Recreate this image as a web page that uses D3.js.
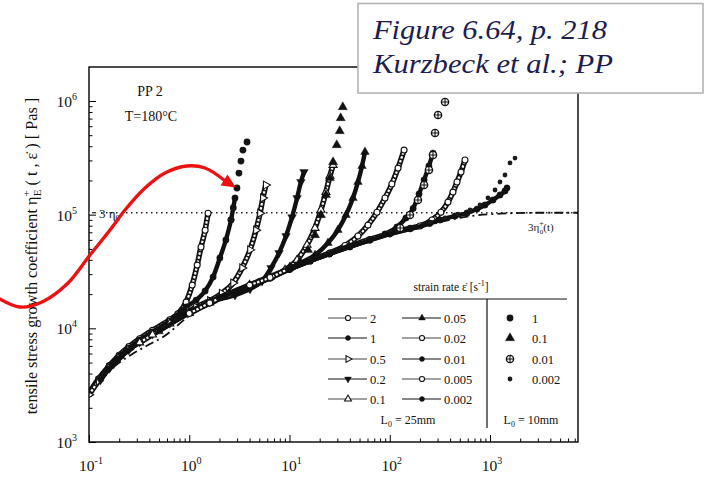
<!DOCTYPE html>
<html>
<head>
<meta charset="utf-8">
<script src="https://cdn.jsdelivr.net/npm/d3@7"></script>
<style>
  html, body { margin: 0; padding: 0; background: #fff; }
  svg { display: block; font-family: "Liberation Serif", "Times New Roman", serif; }
</style>
</head>
<body>
<svg id="chart" width="705" height="479"></svg>
<script>
// ---- PP 2 at 180 °C: tensile stress growth coefficient [t (s), eta (Pa s)] ----
// L0 = 25 mm specimens, one array per strain rate (1/s)
const r2     = [[0.1,2700],[0.125,3600],[0.16,4700],[0.2,5800],[0.25,6900],[0.32,8100],[0.43,9600],[0.64,11900],[0.77,13400],[0.93,17000],[1.07,24000],[1.2,36000],[1.31,52000],[1.44,73000],[1.54,103000]];
const r1     = [[0.1,2650],[0.125,3550],[0.16,4650],[0.2,5700],[0.25,6700],[0.32,7900],[0.43,9300],[0.64,11600],[0.93,15400],[1.17,17700],[1.44,21300],[1.73,28300],[2.02,41600],[2.32,60000],[2.61,90000],[2.86,140000]];
const r0_5   = [[0.1,2600],[0.125,3450],[0.16,4500],[0.2,5500],[0.25,6500],[0.32,7600],[0.43,9000],[0.64,11300],[1.0,14100],[1.17,15400],[1.61,17500],[2.11,20300],[2.74,25000],[3.37,34000],[4.04,49000],[4.63,73000],[5.08,103000],[5.43,140000],[5.8,182000]];
const r0_2   = [[0.13,3500],[0.16,4450],[0.2,5450],[0.25,6450],[0.32,7550],[0.43,8900],[0.64,11100],[1.0,13900],[1.6,17000],[2.86,19600],[4.04,22200],[5.32,26000],[6.54,34000],[7.86,46000],[9.23,65000],[10.6,95000],[11.9,140000],[13.0,194000],[13.95,237000]];
const r0_1   = [[0.32,7500],[0.43,8800],[0.64,11000],[1.0,13700],[1.6,16900],[2.5,20300],[4.0,24000],[6.39,28500],[9.02,32600],[11.9,39900],[14.95,54100],[17.97,76300],[20.6,110000],[23.1,158000],[25.3,219000],[27.2,273000]];
const r0_05  = [[0.5,9400],[1,13600],[1.6,16800],[2.5,20200],[4,23800],[6.4,28000],[10,33800],[12.7,37500],[17.97,44200],[24.2,56400],[30.4,73300],[36.6,99300],[43.0,140000],[48.2,194000],[52.9,268000],[56.6,356000]];
const r0_02  = [[1,13500],[1.6,16700],[2.5,20000],[4,23600],[6.4,27800],[10,33400],[16,39500],[25.3,46000],[35.8,53500],[48.2,64900],[60.7,81000],[74.6,105000],[89.7,140000],[105,186000],[121,257000],[139,370000]];
const r0_01  = [[2,18600],[4,23500],[6.4,27600],[10,33000],[16,39000],[25,45200],[40,52500],[63.5,60000],[89.7,67600],[118,77800],[145,93500],[171,113500],[196,152000],[220,202000],[246,268000],[270,348000]];
const r0_005 = [[4,24000],[6.4,28000],[10,33500],[16,39500],[25,45700],[40,52800],[63,60500],[100,68500],[160,76000],[200,79500],[264,89800],[324,105000],[381,129000],[427,158000],[469,194000],[514,237000],[563,303000]];
const r0_002 = [[10,33000],[16,39000],[25,45000],[40,52000],[63,59500],[100,67500],[160,75000],[250,83500],[317,89800],[448,97300],[590,103500],[742,112000],[891,121600],[1071,134600],[1258,149000],[1411,161500],[1478,171700]];

// L0 = 10 mm specimens
const s1     = [[2.61,90000],[2.75,115000],[2.99,171700],[3.13,232300],[3.28,296300],[3.43,370400],[3.77,435700]];
const s0_1   = [[10.1,34600],[12.7,38400],[15.3,48900],[17.97,66200],[20.6,99300],[23.1,149000],[25.3,210500],[27.2,290100],[29.6,409900],[31.7,544600],[32.4,708300],[34.0,885000]];
const s0_01  = [[127,76300],[159,99300],[191,134600],[220,182400],[246,247400],[270,334900],[283,523300],[303,754000],[356,980000]];
const s0_002 = [[252,86100],[356,93500],[479,101300],[632,109900],[795,121600],[955,140300],[1122,164800],[1258,193800],[1411,223300],[1583,285100],[1776,314800]];

// linear viscoelastic start-up curve 3·eta0+(t) and the Trouton level 3·eta0
const lve    = [[0.1,2540],[0.129,3370],[0.182,4670],[0.262,5830],[0.406,7280],[0.547,8390],[1.02,13000],[2.55,19000],[6.39,27000],[16,38500],[40.1,51500],[100,66500],[252,82000],[632,97000],[1258,102000],[3155,104000],[7550,104000]];
const eta0x3 = 104000;

// legend text
const legendTitle = "strain rate ";
const rates25 = ["2","1","0.5","0.2","0.1","0.05","0.02","0.01","0.005","0.002"];
const rates10 = ["1","0.1","0.01","0.002"];

// ---- drawing ----
const svg = d3.select("#chart");
const X0 = 89, X1 = 578, Y0 = 442, Y1 = 67;
const x = d3.scaleLog().domain([0.1, Math.pow(10, 3 + (X1 - 490) / 100.25)]).range([X0, X1]);
const y = d3.scaleLog().domain([1e3, Math.pow(10, 6 + (101 - Y1) / 113.67)]).range([Y0, Y1]);

svg.append("clipPath").attr("id", "plotclip")
  .append("rect").attr("x", X0).attr("y", Y1).attr("width", X1 - X0).attr("height", Y0 - Y1);

const isMajor = v => Math.abs(Math.log10(v) - Math.round(Math.log10(v))) < 1e-6;

// axes: ticks point inward, minor ticks shorter
function tickAxis(axis, vals, size) {
  return axis.tickValues(vals).tickSize(size).tickSizeOuter(0).tickFormat("");
}
const xt = x.ticks(), yt = y.ticks();
const gx = svg.append("g").attr("transform", `translate(0,${Y0})`);
gx.append("g").call(tickAxis(d3.axisBottom(x), xt.filter(v => !isMajor(v)), -3.5));
gx.append("g").call(tickAxis(d3.axisBottom(x), xt.filter(isMajor), -7));
const gy = svg.append("g").attr("transform", `translate(${X0},0)`);
gy.append("g").call(tickAxis(d3.axisLeft(y), yt.filter(v => !isMajor(v)), -3.5));
gy.append("g").call(tickAxis(d3.axisLeft(y), yt.filter(isMajor), -7));
svg.selectAll(".domain").remove();
svg.selectAll(".tick line").attr("stroke", "#000").attr("stroke-width", 1);

// tick labels as 10 with superscript exponent
function powLabel(sel, v) {
  const e = Math.round(Math.log10(v));
  sel.append("tspan").text("10");
  sel.append("tspan").attr("font-size", 10).attr("dy", -7).text(e < 0 ? "-" + (-e) : String(e));
}
xt.filter(isMajor).forEach(v => {
  const t = svg.append("text").attr("x", x(v) + 2).attr("y", 471)
    .attr("text-anchor", "middle").attr("font-size", 15.5).attr("fill", "#111");
  powLabel(t, v);
});
yt.filter(isMajor).forEach(v => {
  const t = svg.append("text").attr("x", 77).attr("y", y(v) + 6)
    .attr("text-anchor", "end").attr("font-size", 15.5).attr("fill", "#111");
  powLabel(t, v);
});

// y axis title
const yl = svg.append("text").attr("transform", `translate(37,256) rotate(-90)`)
  .attr("text-anchor", "middle").attr("font-size", 16.2).attr("fill", "#111");
yl.append("tspan").text("tensile stress growth coefficient  η");
yl.append("tspan").attr("font-size", 11).attr("dy", -7).text("+");
yl.append("tspan").attr("font-size", 11).attr("dy", 11).attr("dx", -6).text("E");
yl.append("tspan").attr("dy", -4).text(" ( t , ε̇ ) [ Pas ]");

// 3·eta0 dotted level
const dataG = svg.append("g").attr("clip-path", "url(#plotclip)");
dataG.append("line").attr("x1", X0 + 2).attr("x2", X1).attr("y1", y(eta0x3)).attr("y2", y(eta0x3))
  .attr("stroke", "#222").attr("stroke-width", 1.5).attr("stroke-dasharray", "1.5,3.5");

// linear viscoelastic envelope (dash-dot)
const line = d3.line().x(d => x(d[0])).y(d => y(d[1])).curve(d3.curveMonotoneX);
dataG.append("path").attr("d", line(lve)).attr("fill", "none")
  .attr("stroke", "#111").attr("stroke-width", 1.8).attr("stroke-dasharray", "9,4,2,4");

// marker shapes
const sym = {
  circle: d3.symbolCircle, tri: d3.symbolTriangle, square: d3.symbolSquare
};
function marker(g, kind, open, size, rot) {
  const p = g.append("path").attr("d", d3.symbol().type(sym[kind]).size(size)())
    .attr("fill", open ? "#fff" : "#111").attr("stroke", "#111").attr("stroke-width", open ? 1.1 : 0.4);
  if (rot) p.attr("transform", `rotate(${rot})`);
  return p;
}

const series25 = [
  { data: r2,     kind: "circle", open: true,  rot: 0 },
  { data: r1,     kind: "circle", open: false, rot: 0 },
  { data: r0_5,   kind: "tri",    open: true,  rot: 90 },
  { data: r0_2,   kind: "tri",    open: false, rot: 180 },
  { data: r0_1,   kind: "tri",    open: true,  rot: 0 },
  { data: r0_05,  kind: "tri",    open: false, rot: 0 },
  { data: r0_02,  kind: "circle", open: true,  rot: 0 },
  { data: r0_01,  kind: "circle", open: false, rot: 0 },
  { data: r0_005, kind: "circle", open: true,  rot: 0 },
  { data: r0_002, kind: "circle", open: false, rot: 0 }
];

series25.forEach(s => {
  const d = line(s.data);
  if (s.open) {
    dataG.append("path").attr("d", d).attr("fill", "none").attr("stroke", "#111").attr("stroke-width", 5.6);
    dataG.append("path").attr("d", d).attr("fill", "none").attr("stroke", "#fff")
      .attr("stroke-width", 2.2).attr("stroke-dasharray", "2.4,1.6");
  } else {
    dataG.append("path").attr("d", d).attr("fill", "none").attr("stroke", "#111").attr("stroke-width", 4.4);
  }
  s.data.forEach(p => {
    const g = dataG.append("g").attr("transform", `translate(${x(p[0])},${y(p[1])})`);
    marker(g, s.kind, s.open, s.open ? 28 : 32, s.rot);
  });
});

// L0 = 10 mm runs: markers only
function plusCircle(g) {
  g.append("circle").attr("r", 3.6).attr("fill", "#fff").attr("stroke", "#111").attr("stroke-width", 1.4);
  g.append("path").attr("d", "M-3.6,0H3.6M0,-3.6V3.6").attr("stroke", "#111").attr("stroke-width", 1.1);
}
const series10 = [
  { data: s1,     draw: g => g.append("circle").attr("r", 3.4).attr("fill", "#151515") },
  { data: s0_1,   draw: g => marker(g, "tri", false, 36, 0) },
  { data: s0_01,  draw: plusCircle },
  { data: s0_002, draw: g => g.append("circle").attr("r", 2.4).attr("fill", "#1a1a1a") }
];
series10.forEach(s => {
  s.data.forEach(p => {
    const g = dataG.append("g").attr("transform", `translate(${x(p[0])},${y(p[1])})`);
    s.draw(g);
  });
});

// plot frame
svg.append("rect").attr("x", X0).attr("y", Y1).attr("width", X1 - X0).attr("height", Y0 - Y1)
  .attr("fill", "none").attr("stroke", "#000").attr("stroke-width", 1.4);

// in-plot annotations
svg.append("text").attr("x", 150).attr("y", 96).attr("text-anchor", "middle")
  .attr("font-size", 14).attr("fill", "#111").text("PP 2");
svg.append("text").attr("x", 151).attr("y", 121).attr("text-anchor", "middle")
  .attr("font-size", 14).attr("fill", "#111").text("T=180°C");

const lab0 = svg.append("text").attr("x", 99).attr("y", y(eta0x3) + 5)
  .attr("font-size", 13).attr("fill", "#111");
lab0.append("tspan").text("3 η");
lab0.append("tspan").attr("font-size", 9).attr("dy", 3).text("0");
svg.append("rect").attr("x", 89.7).attr("y", y(eta0x3) - 1).attr("width", 8).attr("height", 2).attr("fill", "#fff");
svg.append("line").attr("x1", 92).attr("x2", 96).attr("y1", y(eta0x3)).attr("y2", y(eta0x3))
  .attr("stroke", "#222").attr("stroke-width", 1.2);

const lab1 = svg.append("text").attr("x", 528).attr("y", y(eta0x3) + 18)
  .attr("font-size", 11).attr("fill", "#222");
lab1.append("tspan").text("3η");
lab1.append("tspan").attr("font-size", 8).attr("dy", -5).text("+");
lab1.append("tspan").attr("font-size", 7).attr("dy", 8).attr("dx", -4).text("0");
lab1.append("tspan").attr("dy", -3).text("(t)");

// legend
const lg = svg.append("g");
const lt = lg.append("text").attr("x", 451).attr("y", 291).attr("text-anchor", "middle")
  .attr("font-size", 11.5).attr("fill", "#111");
lt.append("tspan").text(legendTitle + "ε̇ [s");
lt.append("tspan").attr("font-size", 8).attr("dy", -5).text("-1");
lt.append("tspan").attr("dy", 5).text("]");
lg.append("line").attr("x1", 328).attr("x2", 567).attr("y1", 299).attr("y2", 299)
  .attr("stroke", "#111").attr("stroke-width", 1.2);
lg.append("line").attr("x1", 487).attr("x2", 487).attr("y1", 299).attr("y2", 428)
  .attr("stroke", "#111").attr("stroke-width", 1.2);

const rowY = [318, 338, 359, 379, 399];
const colX = [328, 402];
series25.forEach((s, i) => {
  const cx = colX[Math.floor(i / 5)], cy = rowY[i % 5];
  lg.append("line").attr("x1", cx).attr("x2", cx + 39).attr("y1", cy).attr("y2", cy)
    .attr("stroke", s.open ? "#444" : "#111").attr("stroke-width", 1.2);
  const g = lg.append("g").attr("transform", `translate(${cx + 20},${cy})`);
  marker(g, s.kind, s.open, 20, s.rot);
  lg.append("text").attr("x", cx + 42).attr("y", cy + 4.5).attr("font-size", 12.5)
    .attr("fill", "#111").text(rates25[i]);
});
series10.forEach((s, i) => {
  const cy = rowY[i];
  const g = lg.append("g").attr("transform", `translate(510,${cy})`);
  s.draw(g);
  lg.append("text").attr("x", 532).attr("y", cy + 4.5).attr("font-size", 12.5)
    .attr("fill", "#111").text(rates10[i]);
});
[["25mm", 408], ["10mm", 531]].forEach(([len, cx]) => {
  const t = lg.append("text").attr("x", cx).attr("y", 424).attr("text-anchor", "middle")
    .attr("font-size", 12).attr("fill", "#111");
  t.append("tspan").text("L");
  t.append("tspan").attr("font-size", 8).attr("dy", 3).text("0");
  t.append("tspan").attr("dy", -3).text(" = " + len);
});

// caption box
svg.append("rect").attr("x", 358).attr("y", 3.5).attr("width", 345).attr("height", 89.5)
  .attr("fill", "#fff").attr("stroke", "#b4b4b4").attr("stroke-width", 1.6);
[["Figure 6.64, p. 218", 39, 234], ["Kurzbeck et al.; PP", 73, 240]].forEach(([s, yy, w]) => {
  svg.append("text").attr("x", 373).attr("y", yy).attr("font-size", 27)
    .attr("font-style", "italic").attr("fill", "#1d1d52")
    .attr("textLength", w).attr("lengthAdjust", "spacingAndGlyphs").text(s);
});

// red pointer arrow
const arrowPts = [[-2,298],[20,307],[42,302],[67,284],[90,255],[110,230],[125,210],[145,188],[165,173],[187,166],[205,168],[224,180]];
svg.append("path").attr("d", d3.line().curve(d3.curveCatmullRom)(arrowPts))
  .attr("fill", "none").attr("stroke", "#ee1111").attr("stroke-width", 3.4).attr("stroke-linecap", "round");
{
  const [a, b] = arrowPts.slice(-2);
  const dx = b[0] - a[0], dy = b[1] - a[1], L = Math.hypot(dx, dy);
  const ux = dx / L, uy = dy / L, len = 14, hw = 6.5;
  const tip = [b[0] + ux * len, b[1] + uy * len];
  const p1 = [b[0] - uy * hw, b[1] + ux * hw], p2 = [b[0] + uy * hw, b[1] - ux * hw];
  svg.append("path").attr("d", `M${tip}L${p1}L${p2}Z`).attr("fill", "#ee1111");
}
</script>
</body>
</html>
